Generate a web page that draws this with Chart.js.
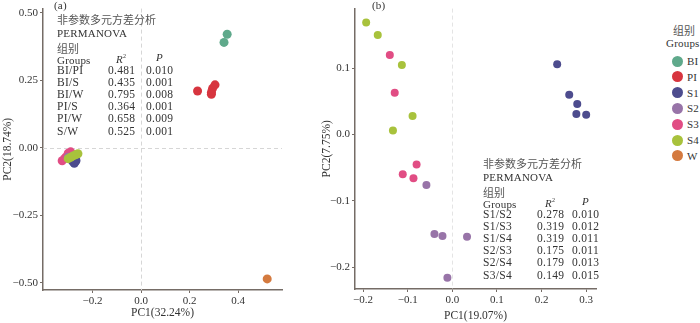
<!DOCTYPE html>
<html>
<head>
<meta charset="utf-8">
<script src="https://cdn.jsdelivr.net/npm/chart.js@4/dist/chart.umd.min.js"></script>
<style>
  body { margin: 0; background: #fff; width: 700px; height: 323px; position: relative; overflow: hidden;
         font-family: "Liberation Serif", "Noto Sans CJK SC", serif; color: #333; }
  .box { position: absolute; top: 0; height: 323px; }
  .t { position: absolute; white-space: nowrap; font-size: 11.5px; line-height: 12px; letter-spacing: 0.3px; }
  .h { font-size: 11px; letter-spacing: 0.2px; }
  .zh { font-family: "Noto Sans CJK SC", sans-serif; font-size: 11px; color: #555; letter-spacing: 0; }
  .dot { position: absolute; width: 11px; height: 11px; border-radius: 50%; }
</style>
</head>
<body>
<div class="box" style="left:0;width:290px"><canvas id="chartA"></canvas></div>
<div class="box" style="left:290px;width:310px"><canvas id="chartB"></canvas></div>
<div id="notes"></div>
<div id="legend"></div>
<script>
const groups = ['BI', 'PI', 'S1', 'S2', 'S3', 'S4', 'W'];
const colors = ['#5fa98b', '#d7353f', '#4d4c8e', '#9874a8', '#e14d84', '#a8c23c', '#d47a3f'];

// panel (a): PC1(32.24%) x PC2(18.74%)
const aBI = [[0.355, 0.42], [0.342, 0.39]];
const aPI = [[0.233, 0.21], [0.29, 0.205], [0.295, 0.22], [0.305, 0.233], [0.29, 0.198]];
const aS1 = [[-0.275, -0.057], [-0.28, -0.052], [-0.27, -0.05], [-0.285, -0.045], [-0.268, -0.047]];
const aS2 = [[-0.28, -0.05], [-0.29, -0.04], [-0.27, -0.045], [-0.30, -0.035], [-0.28, -0.03]];
const aS3 = [[-0.325, -0.048], [-0.29, -0.015], [-0.31, -0.035], [-0.30, -0.02], [-0.315, -0.04]];
const aS4 = [[-0.30, -0.04], [-0.26, -0.022], [-0.27, -0.026], [-0.29, -0.035], [-0.28, -0.03]];
const aW = [[0.52, -0.485]];

// panel (b): PC1(19.07%) x PC2(7.75%)
const bS1 = [[0.235, 0.106], [0.262, 0.06], [0.28, 0.046], [0.278, 0.031], [0.30, 0.03]];
const bS2 = [[-0.058, -0.076], [-0.04, -0.15], [-0.022, -0.153], [0.033, -0.154], [-0.011, -0.216]];
const bS3 = [[-0.14, 0.12], [-0.129, 0.063], [-0.08, -0.045], [-0.111, -0.06], [-0.087, -0.066]];
const bS4 = [[-0.193, 0.169], [-0.167, 0.15], [-0.113, 0.105], [-0.089, 0.028], [-0.133, 0.006]];

const aXTicks = [-0.2, 0, 0.2, 0.4];
const aYTicks = [-0.5, -0.25, 0, 0.25, 0.5];
const bXTicks = [-0.2, -0.1, 0, 0.1, 0.2, 0.3];
const bYTicks = [-0.2, -0.1, 0, 0.1];

// PERMANOVA tables
const aPairs = ['BI/PI', 'BI/S', 'BI/W', 'PI/S', 'PI/W', 'S/W'];
const aR2 = ['0.481', '0.435', '0.795', '0.364', '0.658', '0.525'];
const aP = ['0.010', '0.001', '0.008', '0.001', '0.009', '0.001'];
const bPairs = ['S1/S2', 'S1/S3', 'S1/S4', 'S2/S3', 'S2/S4', 'S3/S4'];
const bR2 = ['0.278', '0.319', '0.319', '0.175', '0.179', '0.149'];
const bP = ['0.010', '0.012', '0.011', '0.011', '0.013', '0.015'];

const serif = '"Liberation Serif", serif';
const axisColor = '#756c66';

const fmt = (v, d) => (v < 0 ? '\u2212' : '') + Math.abs(v).toFixed(d);
const pts = arr => arr.map(([x, y]) => ({ x, y }));

function ds(name, arr, r, order) {
  const c = colors[groups.indexOf(name)];
  return { label: name, data: pts(arr), backgroundColor: c, borderColor: c, borderWidth: 0,
           pointRadius: r, order: order === undefined ? 1 : order };
}

function axis(min, max, ticks, digits, title, isX, size, tpad) {
  return {
    type: 'linear', min, max,
    afterBuildTicks: s => { s.ticks = ticks.map(v => ({ value: v })); },
    afterFit: s => { if (isX) s.height = size; else s.width = size; },
    border: { color: axisColor, width: 1.5 },
    grid: { drawOnChartArea: false, drawTicks: true, tickLength: 3, tickColor: axisColor, tickWidth: 1 },
    ticks: { color: '#333', padding: 2, autoSkip: false, maxRotation: 0,
             font: { family: serif, size: 11 }, callback: v => fmt(v, digits) },
    title: { display: true, text: title, color: '#333', font: { family: serif, size: 11.5 }, padding: tpad }
  };
}

const zeroLines = {
  id: 'zeroLines',
  beforeDatasetsDraw(chart, args, o) {
    const { ctx, chartArea: a, scales: { x, y } } = chart;
    ctx.save();
    ctx.strokeStyle = o.color;
    ctx.lineWidth = 1;
    ctx.setLineDash([4, 3]);
    ctx.beginPath();
    const px = Math.round(x.getPixelForValue(0)) + 0.5;
    ctx.moveTo(px, a.top); ctx.lineTo(px, a.bottom);
    if (o.horizontal) {
      const py = Math.round(y.getPixelForValue(0)) + 0.5;
      ctx.moveTo(a.left, py); ctx.lineTo(a.right, py);
    }
    ctx.stroke();
    ctx.restore();
  }
};

new Chart(document.getElementById('chartA'), {
  type: 'scatter',
  data: { datasets: [
    ds('BI', aBI, 4.5), ds('PI', aPI, 4.5), ds('S1', aS1, 4.5), ds('S2', aS2, 4.5),
    ds('S3', aS3, 4.5), ds('S4', aS4, 4.5, 0), ds('W', aW, 4.5)
  ] },
  options: {
    responsive: true, maintainAspectRatio: false, animation: false,
    layout: { padding: { top: 7, right: 8, left: 0, bottom: 0 } },
    scales: {
      x: axis(-0.404, 0.581, aXTicks, 1, 'PC1(32.24%)', true, 33, { top: 0, bottom: 3 }),
      y: axis(-0.526, 0.515, aYTicks, 2, 'PC2(18.74%)', false, 43, { top: 1, bottom: 0 })
    },
    plugins: { legend: { display: false }, tooltip: { enabled: false },
               zeroLines: { horizontal: true, color: '#d6d6d6' } }
  },
  plugins: [zeroLines]
});

new Chart(document.getElementById('chartB'), {
  type: 'scatter',
  data: { datasets: [ds('S1', bS1, 4), ds('S2', bS2, 4), ds('S3', bS3, 4), ds('S4', bS4, 4)] },
  options: {
    responsive: true, maintainAspectRatio: false, animation: false,
    layout: { padding: { top: 7, right: 2, left: 28, bottom: 0 } },
    scales: {
      x: axis(-0.218, 0.322, bXTicks, 1, 'PC1(19.07%)', true, 34, { top: 0, bottom: 0 }),
      y: axis(-0.233, 0.19, bYTicks, 1, 'PC2(7.75%)', false, 37, { top: 2, bottom: 0 })
    },
    plugins: { legend: { display: false }, tooltip: { enabled: false },
               zeroLines: { horizontal: false, color: '#e4e4e4' } }
  },
  plugins: [zeroLines]
});

// text blocks, placed by their centre line
function put(parent, text, x, cy, cls, html) {
  const el = document.createElement('div');
  el.className = 't ' + (cls || '');
  if (html) el.innerHTML = text; else el.textContent = text;
  el.style.left = x + 'px';
  el.style.top = (cy - 6) + 'px';
  parent.appendChild(el);
  return el;
}

function table(x0, y0, rowY, xR, xP, pairs, r2, p) {
  const n = document.getElementById('notes');
  put(n, '非参数多元方差分析', x0, y0, 'zh');
  put(n, 'PERMANOVA', x0, y0 + 14, 'h');
  put(n, '组别', x0, y0 + 29, 'zh');
  put(n, 'Groups', x0, y0 + 41, 'h');
  put(n, '<i>R</i><sup style="font-size:6px">2</sup>', xR + 8, y0 + 37, 'h', true);
  put(n, '<i>P</i>', xP + 10, y0 + 38, 'h', true);
  pairs.forEach((g, i) => {
    const cy = rowY + i * 12.2;
    put(n, g, x0, cy);
    put(n, r2[i], xR, cy);
    put(n, p[i], xP, cy);
  });
}

put(document.getElementById('notes'), '(a)', 54, 5, 'h');
put(document.getElementById('notes'), '(b)', 372, 5, 'h');
table(57, 19, 69.5, 108, 146, aPairs, aR2, aP);
table(483, 163, 213.5, 537, 572, bPairs, bR2, bP);

// legend
const lg = document.getElementById('legend');
put(lg, '组别', 673, 30, 'zh');
put(lg, 'Groups', 666, 43, 'h');
groups.forEach((g, i) => {
  const cy = 61 + i * 15.8;
  const d = document.createElement('div');
  d.className = 'dot';
  d.style.background = colors[i];
  d.style.left = '672px';
  d.style.top = (cy - 5.5) + 'px';
  lg.appendChild(d);
  put(lg, g, 687, cy, 'h');
});
</script>
</body>
</html>
